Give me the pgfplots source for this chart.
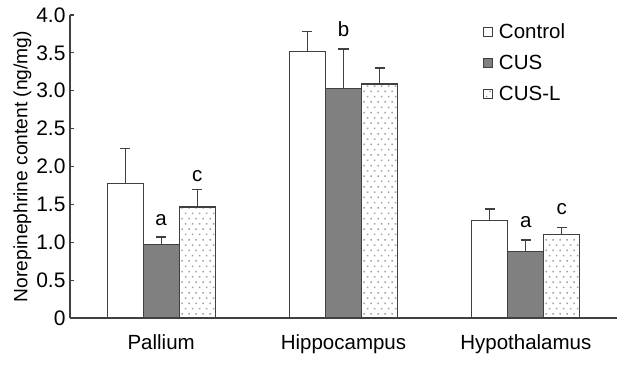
\documentclass[border=0pt]{standalone}
\usepackage{pgfplots}
\pgfplotsset{compat=1.18}
\usepackage{fontspec}
\setmainfont{Liberation Sans}
\usetikzlibrary{patterns}
\pgfdeclarepatternformonly{mydots}{\pgfqpoint{-1pt}{-1pt}}{\pgfqpoint{8pt}{11pt}}{\pgfqpoint{7pt}{10.6pt}}{%
  \pgfpathrectangle{\pgfqpoint{-0.75pt}{-0.75pt}}{\pgfqpoint{1.5pt}{1.5pt}}%
  \pgfpathrectangle{\pgfqpoint{2.75pt}{4.55pt}}{\pgfqpoint{1.5pt}{1.5pt}}%
  \pgfusepath{fill}}
\definecolor{edge}{HTML}{404040}
\definecolor{cusgray}{HTML}{808080}
\definecolor{dotgray}{HTML}{A0A0A0}
\begin{document}
\begin{tikzpicture}
\begin{axis}[
  scale only axis,
  width=547pt, height=303pt,
  xmin=0, xmax=3, ymin=0, ymax=4,
  axis x line*=bottom, axis y line*=left,
  axis line style={edge, line width=1.2pt},
  ybar=0pt, bar width=36pt,
  xtick={0.5,1.5,2.5},
  xticklabels={Pallium,Hippocampus,Hypothalamus},
  x tick style={draw=none},
  extra x ticks={1,2,3},
  extra x tick labels={},
  extra x tick style={tick style={draw=edge, line width=1.2pt}, major tick length=5pt, tick align=inside},
  ytick={0,0.5,1,1.5,2,2.5,3,3.5,4},
  yticklabels={0,0.5,1.0,1.5,2.0,2.5,3.0,3.5,4.0},
  y tick style={draw=edge, line width=1.2pt},
  ytick align=inside, major tick length=4pt,
  /pgf/number format/assume math mode=true,
  ticklabel style={font=\fontsize{21}{24}\selectfont, text=black},
  xticklabel style={yshift=-9pt, font=\fontsize{20.5}{24}\selectfont},
  yticklabel style={xshift=-1pt},
  ylabel={Norepinephrine content (ng/mg)},
  ylabel style={font=\fontsize{19.2}{22}\selectfont, yshift=-2pt},
  clip=false,
  error bars/y dir=plus, error bars/y explicit,
  error bars/error bar style={edge, line width=1.2pt},
  error bars/error mark options={rotate=90, mark size=5pt, edge, line width=1.2pt},
  legend style={at={(rel axis cs:0.755,0.985)}, anchor=north west, draw=none, fill=none,
    font=\fontsize{20.5}{24}\selectfont, row sep=11pt, legend cell align=left,
    inner xsep=0pt},
  legend image code/.code={\draw[#1, line width=0.8pt] (0pt,-4.5pt) rectangle (9pt,4.5pt);},
]
\addplot[draw=edge, fill=white, line width=1.2pt] coordinates {
  (0.5,1.78) +- (0,0.46)
  (1.5,3.52) +- (0,0.26)
  (2.5,1.29) +- (0,0.15)
};
\addlegendentry{\hspace{4pt}Control}
\addplot[draw=edge, fill=cusgray, line width=1.2pt] coordinates {
  (0.5,0.97) +- (0,0.10)
  (1.5,3.03) +- (0,0.52)
  (2.5,0.88) +- (0,0.15)
};
\addlegendentry{\hspace{4pt}CUS}
\addplot[draw=edge, pattern=mydots, pattern color=dotgray, line width=1.2pt] coordinates {
  (0.5,1.465) +- (0,0.235)
  (1.5,3.09) +- (0,0.21)
  (2.5,1.10) +- (0,0.09)
};
\addlegendentry{\hspace{4pt}CUS-L}
\node[font=\fontsize{20.5}{24}\selectfont] at (axis cs:0.5,1.29) {a};
\node[font=\fontsize{20.5}{24}\selectfont] at ([xshift=36pt]axis cs:0.5,1.88) {c};
\node[font=\fontsize{20.5}{24}\selectfont] at (axis cs:1.5,3.81) {b};
\node[font=\fontsize{20.5}{24}\selectfont] at (axis cs:2.5,1.26) {a};
\node[font=\fontsize{20.5}{24}\selectfont] at ([xshift=36pt]axis cs:2.5,1.44) {c};
\end{axis}
\path (-70pt,-49pt) rectangle (565pt,318pt);
\end{tikzpicture}
\end{document}
